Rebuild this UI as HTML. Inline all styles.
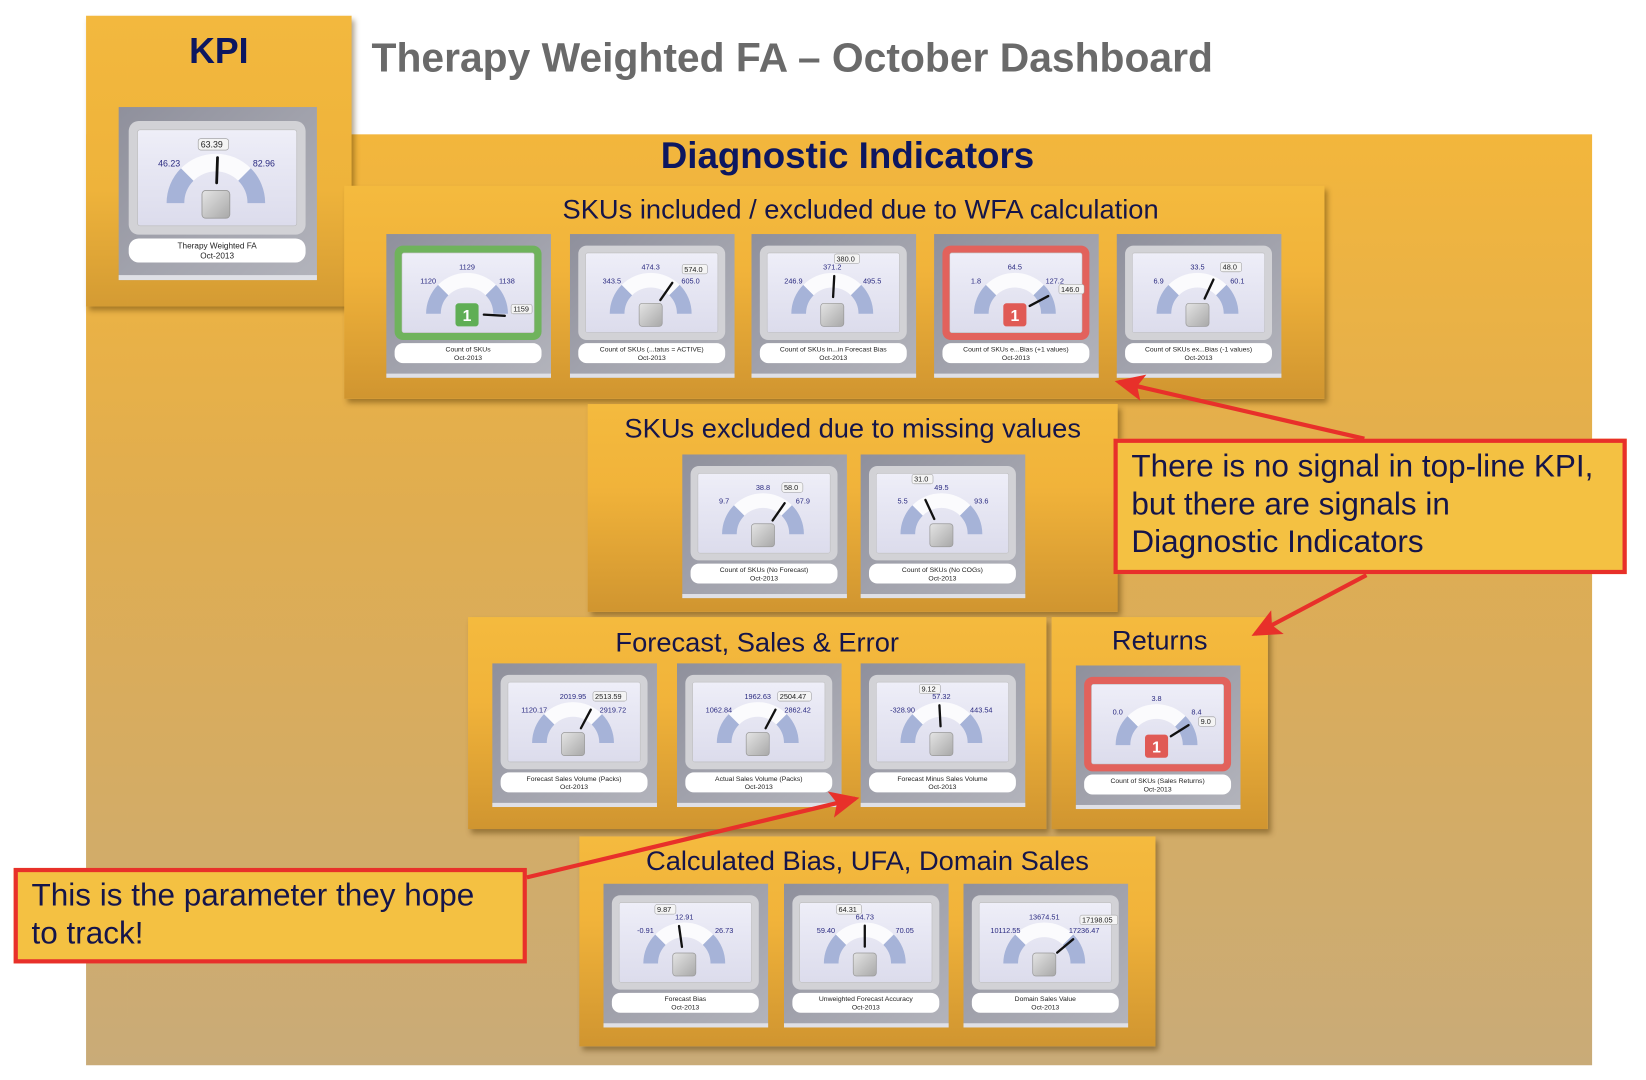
<!DOCTYPE html>
<html><head><meta charset="utf-8">
<style>
html,body{margin:0;padding:0;background:#fff;width:1646px;height:1080px;overflow:hidden}
#w{position:absolute;left:0;top:0;width:1568px;height:1029px;transform:scale(1.0495);transform-origin:0 0;font-family:"Liberation Sans",sans-serif}
.abs{position:absolute}
.panel{position:absolute;background:linear-gradient(#f4ba3e,#f1b33a 40%,#d09530);box-shadow:3px 4px 5px rgba(80,50,0,.45)}
.pt{position:absolute;left:0;right:0;text-align:center;color:#15154a;font-size:26px}
.call{position:absolute;background:#f4c142;border:4px solid #e8302a;color:#15154a;font-size:30px;line-height:36px;box-sizing:border-box;padding:5px 13px;white-space:nowrap}
</style></head><body><div id="w">
<div class="abs" style="left:82px;top:128px;width:1435px;height:887px;background:linear-gradient(#f3b63c,#e0ad50 40%,#c9ab78);"></div>
<div class="panel" style="left:82px;top:15px;width:253px;height:277px;background:linear-gradient(#f3b83e,#eeb33b 60%,#d49b33)"></div>
<div class="abs" style="left:82px;top:30px;width:253px;text-align:center;font-weight:bold;font-size:34px;color:#0d1760">KPI</div>
<div class="abs" style="left:354px;top:34px;font-weight:bold;font-size:38.9px;color:#6a6a6a;white-space:nowrap">Therapy Weighted FA – October Dashboard</div>
<div class="abs" style="left:335px;width:945px;text-align:center;font-weight:bold;font-size:35px;color:#0d1760;top:129px">Diagnostic Indicators</div>

<div class="panel" style="left:328px;top:177px;width:934px;height:203px"><div class="pt" style="top:7px;left:50px">SKUs included / excluded due to WFA calculation</div></div>
<div class="panel" style="left:560px;top:385px;width:505px;height:198px"><div class="pt" style="top:8px">SKUs excluded due to missing values</div></div>
<div class="panel" style="left:446px;top:588px;width:551px;height:202px"><div class="pt" style="top:9px">Forecast, Sales &amp; Error</div></div>
<div class="panel" style="left:1002px;top:588px;width:206px;height:202px"><div class="pt" style="top:7px">Returns</div></div>
<div class="panel" style="left:552px;top:797px;width:549px;height:200px"><div class="pt" style="top:8px">Calculated Bias, UFA, Domain Sales</div></div>

<div id="tiles"></div>

<div class="call" style="left:1061px;top:418px;width:489px;height:129px">There is no signal in top-line KPI,<br>but there are signals in<br>Diagnostic Indicators</div>
<div class="call" style="left:13px;top:827px;width:489px;height:91px">This is the parameter they hope<br>to track!</div>

<svg class="abs" style="left:0;top:0" width="1568" height="1029">
<defs><marker id="ah" markerWidth="8" markerHeight="8" refX="6" refY="4" orient="auto" markerUnits="strokeWidth"><path d="M0,0.8 L7,4 L0,7.2 L1.5,4 Z" fill="#e8302a"/></marker></defs>
<g stroke="#e8302a" stroke-width="4" fill="none">
<line x1="1300" y1="418" x2="1066" y2="364" marker-end="url(#ah)"/>
<line x1="1302" y1="548" x2="1196" y2="604" marker-end="url(#ah)"/>
<line x1="502" y1="836" x2="815" y2="761" marker-end="url(#ah)"/>
</g>
</svg>
</div>
<script>
function P(cx,cy,r,a){a=a*Math.PI/180;return [(cx+r*Math.cos(a)).toFixed(1),(cy-r*Math.sin(a)).toFixed(1)];}
function seg(a1,a2,R,r,c){var cx=77,cy=76;var o1=P(cx,cy,R,a1),o2=P(cx,cy,R,a2),i1=P(cx,cy,r,a1),i2=P(cx,cy,r,a2);
return '<path d="M'+o1+' A'+R+' '+R+' 0 0 1 '+o2+' L'+i2+' A'+r+' '+r+' 0 0 0 '+i1+' Z" fill="'+c+'"/>';}
function tile(x,y,d,s){
s=s||1;var fc=d.f=='g'?'#6fb35c':d.f=='r'?'#e2625c':'#d2d2d6';
var n1=P(77,76,36,d.a),n0=P(77,76,16,d.a);
var sq=d.b?('<rect x="66" y="66" width="22" height="22" rx="3" fill="'+(d.f=='g'?'#5fae55':'#e05a55')+'"/><text x="77" y="83" font-size="15" font-weight="bold" fill="#fff" text-anchor="middle">1</text>'):'<rect x="66" y="66" width="22" height="22" rx="3" fill="url(#sg)" stroke="#9a9a9a" stroke-width=".7"/>';
var bub=d.bt?('<rect x="'+(d.bx-1)+'" y="'+(d.by-7)+'" width="'+(d.bt.length*4+4)+'" height="9" rx="2" fill="#f4f4f4" stroke="#999" stroke-width=".5"/><text x="'+(d.bx+1)+'" y="'+d.by+'" font-size="7" fill="#222">'+d.bt+'</text>'):'';
return '<svg class="abs" style="left:'+x+'px;top:'+y+'px" width="'+(157*s)+'" height="'+(137*s)+'" viewBox="0 0 157 137">'+
'<defs><linearGradient id="tg" x1="0" y1="0" x2="1" y2="1"><stop offset="0" stop-color="#8f909c"/><stop offset="1" stop-color="#b3b4bc"/></linearGradient>'+
'<linearGradient id="fg" x1="0" y1="0" x2="0" y2="1"><stop offset="0" stop-color="#eeeef8"/><stop offset="1" stop-color="#dcdcec"/></linearGradient>'+
'<linearGradient id="sg" x1="0" y1="0" x2="1" y2="1"><stop offset="0" stop-color="#e4e4e4"/><stop offset="1" stop-color="#a8a8a8"/></linearGradient></defs>'+
'<rect x="0" y="0" width="157" height="137" fill="url(#tg)"/><rect x="0" y="133" width="157" height="4" fill="#dfe0e6"/>'+
'<rect x="8" y="11" width="140" height="90" rx="8" fill="'+fc+'"/><rect x="15" y="18" width="126" height="76" rx="2" fill="url(#fg)" stroke="#bbb" stroke-width=".5"/>'+
seg(180,135,39,25,'#a6b3d8')+seg(135,45,39,25,'#fbfbfd')+seg(45,0,39,25,'#a6b3d8')+sq+
'<line x1="'+n0[0]+'" y1="'+n0[1]+'" x2="'+n1[0]+'" y2="'+n1[1]+'" stroke="#111" stroke-width="2.2" stroke-linecap="round"/>'+
'<text font-size="7" fill="#2a2a80" text-anchor="middle"><tspan x="40" y="47">'+d.l[0]+'</tspan><tspan x="77" y="34">'+d.l[1]+'</tspan><tspan x="115" y="47">'+d.l[2]+'</tspan></text>'+bub+
'<rect x="8" y="104" width="140" height="19" rx="8" fill="#fff"/><text x="78" y="112" font-size="6.5" fill="#222" text-anchor="middle">'+d.t+'</text><text x="78" y="120" font-size="6.5" fill="#222" text-anchor="middle">Oct-2013</text></svg>';}
var T=[
[113,102,{l:['46.23','64.59','82.96'],a:88,bt:'63.39',bx:64,by:32,t:'Therapy Weighted FA'},1.204],
[368,223,{l:['1120','1129','1138'],a:-3,f:'g',b:1,bt:'1159',bx:120,by:74,t:'Count of SKUs'}],
[543,223,{l:['343.5','474.3','605.0'],a:55,bt:'574.0',bx:108,by:36,t:'Count of SKUs (...tatus = ACTIVE)'}],
[716,223,{l:['246.9','371.2','495.5'],a:87,bt:'380.0',bx:80,by:26,t:'Count of SKUs in...in Forecast Bias'}],
[890,223,{l:['1.8','64.5','127.2'],a:28,f:'r',b:1,bt:'146.0',bx:120,by:55,t:'Count of SKUs e...Bias (+1 values)'}],
[1064,223,{l:['6.9','33.5','60.1'],a:65,bt:'48.0',bx:100,by:34,t:'Count of SKUs ex...Bias (-1 values)'}],
[650,433,{l:['9.7','38.8','67.9'],a:55,bt:'58.0',bx:96,by:34,t:'Count of SKUs (No Forecast)'}],
[820,433,{l:['5.5','49.5','93.6'],a:115,bt:'31.0',bx:50,by:26,t:'Count of SKUs (No COGs)'}],
[469,632,{l:['1120.17','2019.95','2919.72'],a:62,bt:'2513.59',bx:97,by:34,t:'Forecast Sales Volume (Packs)'}],
[645,632,{l:['1062.84','1962.63','2862.42'],a:62,bt:'2504.47',bx:97,by:34,t:'Actual Sales Volume (Packs)'}],
[820,632,{l:['-328.90','57.32','443.54'],a:93,bt:'9.12',bx:57,by:27,t:'Forecast Minus Sales Volume'}],
[1025,634,{l:['0.0','3.8','8.4'],a:32,f:'r',b:1,bt:'9.0',bx:118,by:56,t:'Count of SKUs (Sales Returns)'}],
[575,842,{l:['-0.91','12.91','26.73'],a:98,bt:'9.87',bx:50,by:27,t:'Forecast Bias'}],
[747,842,{l:['59.40','64.73','70.05'],a:90,bt:'64.31',bx:51,by:27,t:'Unweighted Forecast Accuracy'}],
[918,842,{l:['10112.55','13674.51','17236.47'],a:40,bt:'17198.05',bx:112,by:37,t:'Domain Sales Value'}]
];
var h='';T.forEach(function(t){h+=tile(t[0],t[1],t[2],t[3]);});
document.getElementById('tiles').innerHTML=h;
</script>
</body></html>
